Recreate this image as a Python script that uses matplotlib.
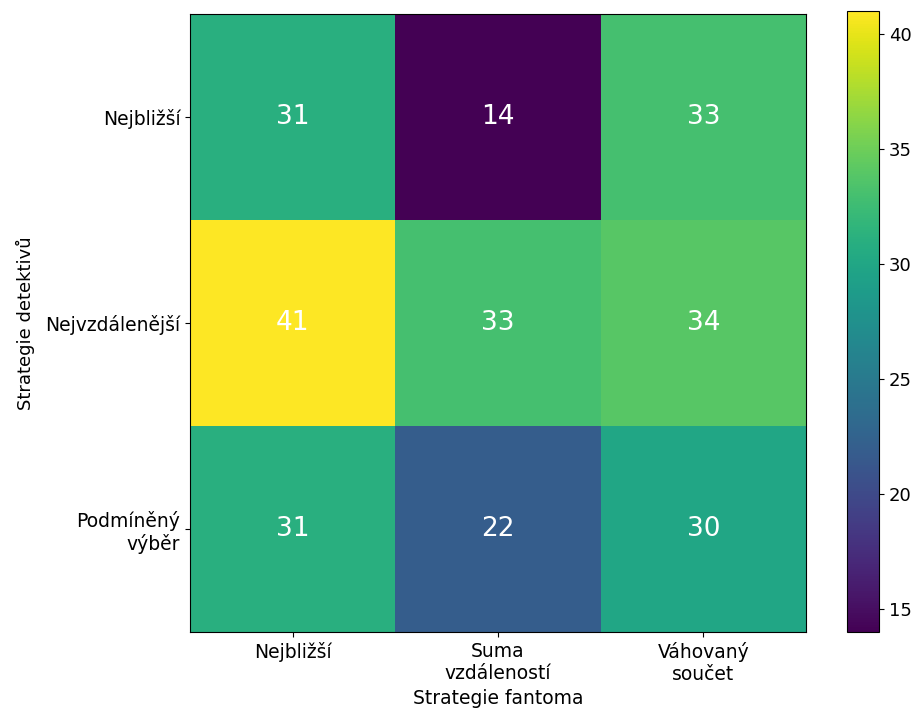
import matplotlib

matplotlib.use("Agg")
import matplotlib.pyplot as plt
import numpy as np

# rows: detective strategy, columns: phantom strategy
detective_labels = ["Nejbližší", "Nejvzdálenější", "Podmíněný\nvýběr"]
phantom_labels = ["Nejbližší", "Suma\nvzdáleností", "Váhovaný\nsoučet"]
row_nearest = [31, 14, 33]
row_farthest = [41, 33, 34]
row_conditional = [31, 22, 30]


def main() -> None:
    values = np.array([row_nearest, row_farthest, row_conditional])

    figure = plt.figure(figsize=(9.16, 7.15), dpi=100)
    axis = figure.add_axes([0.2074, 0.116, 0.6725, 0.864])
    colorbar_axis = figure.add_axes([0.9247, 0.116, 0.035, 0.868])

    image = axis.imshow(values, cmap="viridis", vmin=14, vmax=41, aspect="auto")
    colorbar = figure.colorbar(image, cax=colorbar_axis)
    colorbar.set_ticks([15, 20, 25, 30, 35, 40])
    colorbar.ax.tick_params(labelsize=13)

    for row_index in range(values.shape[0]):
        for column_index in range(values.shape[1]):
            axis.text(
                column_index,
                row_index,
                f"{values[row_index, column_index]}",
                ha="center",
                va="center",
                color="white",
                fontsize=19,
            )

    axis.set_xticks(range(len(phantom_labels)))
    axis.set_xticklabels(phantom_labels, fontsize=13.5)
    axis.set_yticks(range(len(detective_labels)))
    axis.set_yticklabels(detective_labels, fontsize=13.5)
    axis.set_xlabel("Strategie fantoma", fontsize=13.5)
    axis.set_ylabel("Strategie detektivů", fontsize=13, labelpad=7)

    figure.savefig("out.png")
    plt.close(figure)


if __name__ == "__main__":
    main()
